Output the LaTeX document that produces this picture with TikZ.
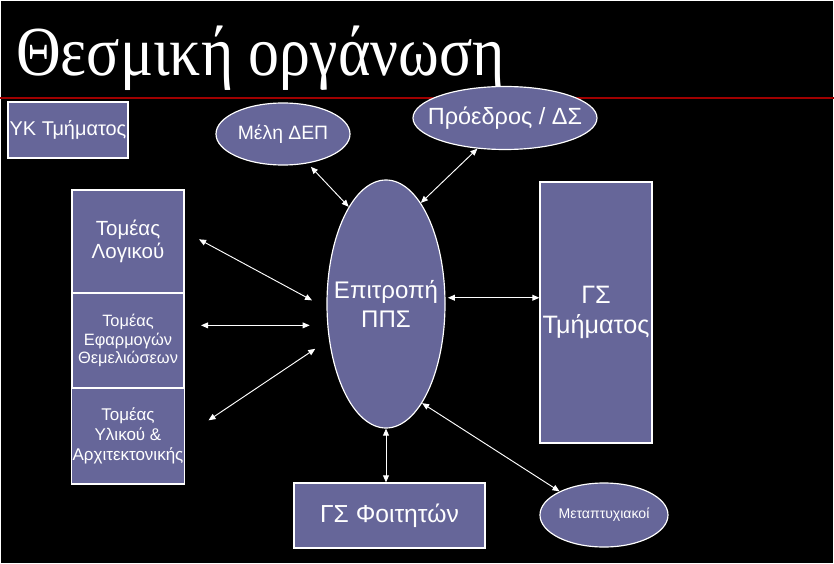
\documentclass[tikz,border=0pt]{standalone}
\usepackage{fontspec}
\setmainfont{Liberation Sans}
\newfontfamily\titlefont{Liberation Serif}
\usetikzlibrary{shapes.geometric,arrows.meta}
\definecolor{boxfill}{RGB}{102,102,153}
\definecolor{rulered}{RGB}{160,0,0}

\begin{document}
\begin{tikzpicture}[x=0.03cm,y=-0.03cm,
    unit/.style ={rectangle, draw=white, line width=1pt, fill=boxfill, text=white, inner sep=1pt, align=center},
    body/.style ={ellipse, draw=white, line width=1pt, fill=boxfill, text=white, inner xsep=-11pt, inner ysep=0pt, align=center},
    link/.style ={<->, >={Triangle[length=6pt,width=5pt]}, white, line width=0.8pt}]
   \fill[black] (0,0) rectangle (834,564);
   \draw[white, line width=0.8pt] (0.5,0.5) rectangle (833.5,563.5);
   \useasboundingbox (0,0) rectangle (834,564);

   \node[anchor=base west, text=white, inner sep=0pt, xscale=0.88] (title) at (16,76) {\titlefont\fontsize{60}{60}\selectfont Θεσμική οργάνωση};
   \draw[rulered, line width=1.6pt] (0,98) -- (834,98);

   \node[unit, minimum width=3.6cm, minimum height=1.68cm, font=\fontsize{17}{20}\selectfont] (yk) at (68,130) {ΥΚ Τμήματος};
   \node[body, minimum width=4.02cm, minimum height=1.86cm, font=\fontsize{16.5}{19}\selectfont] (mdep) at (283,134) {Μέλη ΔΕΠ};
   \node[body, minimum width=5.52cm, minimum height=1.89cm, font=\fontsize{20}{22}\selectfont] (pr) at (505,118) {Πρόεδρος / ΔΣ};

   \node[unit, minimum width=3.36cm, minimum height=3.09cm, font=\fontsize{17.5}{19.6}\selectfont] (tl) at (128,241.5) {Τομέας\\ Λογικού};
   \node[unit, minimum width=3.36cm, minimum height=2.85cm, font=\fontsize{14}{16}\selectfont] (te) at (128,340.5) {Τομέας\\ Εφαρμογών\\ Θεμελιώσεων};
   \node[unit, minimum width=3.36cm, minimum height=2.88cm, font=\fontsize{14.5}{17}\selectfont] (ua) at (128,436) {Τομέας\\ Υλικού \&\\ Αρχιτεκτονικής};

   \node[body, minimum width=3.54cm, minimum height=7.44cm, font=\fontsize{20.5}{25}\selectfont] (ppc) at (386,304) {Επιτροπή\\ ΠΠΣ};
   \node[unit, minimum width=3.36cm, minimum height=7.83cm, font=\fontsize{21.5}{26}\selectfont] (gst) at (596,312.5) {ΓΣ\\ Τμήματος};
   \node[unit, minimum width=5.73cm, minimum height=1.95cm, font=\fontsize{21}{24}\selectfont] (gsf) at (389.5,515.5) {ΓΣ Φοιτητών};
   \node[body, minimum width=3.84cm, minimum height=1.92cm, font=\fontsize{12}{14}\selectfont] (mt) at (604,515) {Μεταπτυχιακοί};

   \draw[link, shorten <=4pt] (mdep.-50) to (ppc.111);
   \draw[link] (pr.-132) to (ppc.71);
   \draw[link, shorten <=14pt, shorten >=14pt] (tl.10) to (ppc.184);
   \draw[link, shorten <=14pt, shorten >=15pt] (te.east |- ppc.200) to (ppc.200);
   \draw[link, shorten <=24pt, shorten >=14pt] (ua.east) to (ppc.212);
   \draw[link, shorten <=2pt] (ppc.6) to (ppc.6 -| gst.west);
   \draw[link] (ppc.south) to (ppc.south |- gsf.north);
   \draw[link] (ppc.-70) to (mt.152);
 \end{tikzpicture}
\end{document}
